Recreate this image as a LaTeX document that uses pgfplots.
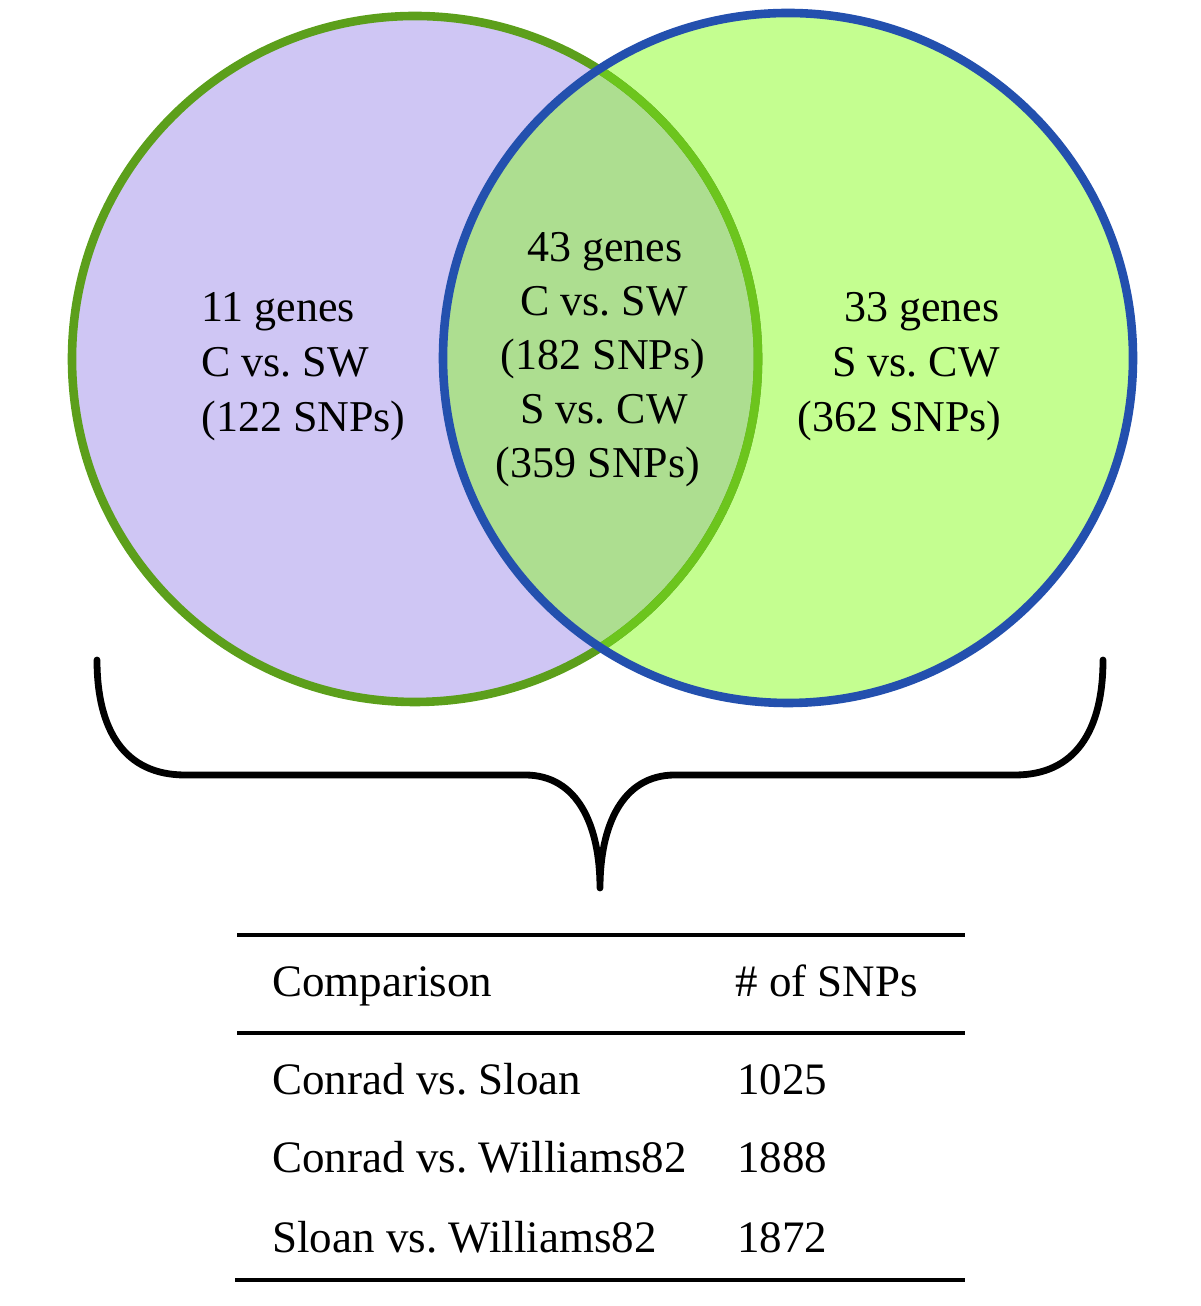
\documentclass[border=0pt]{standalone}
\usepackage{pgfplots}
\pgfplotsset{compat=1.18}
\usepackage{fontspec}
\setmainfont{Liberation Serif}
\frenchspacing
\definecolor{lav}{HTML}{CFC6F4}
\definecolor{lgreen}{HTML}{C4FE90}
\definecolor{ovl}{HTML}{ADDE90}
\definecolor{gdark}{HTML}{5C9F1B}
\definecolor{glight}{HTML}{6CC51D}
\definecolor{blueedge}{HTML}{2350AE}
\newcommand\vtxt{\fontsize{22}{26}\selectfont}
\newcommand\ttxt{\fontsize{22.5}{27}\selectfont}
\begin{document}
\begin{tikzpicture}
\begin{axis}[width=600pt,height=653pt,scale only axis,xmin=0,xmax=1200,ymin=0,ymax=1306,axis lines=none,clip=false]
\path (axis cs:0,0) rectangle (axis cs:1200,1306);
\fill[lav] (axis cs:415,947) circle[radius=343];
\fill[lgreen] (axis cs:788,948) circle[radius=345];
\begin{scope}
\clip (axis cs:415,947) circle[radius=343];
\fill[ovl] (axis cs:788,948) circle[radius=345];
\end{scope}
\draw[gdark, line width=4.3pt] (axis cs:415,947) circle[radius=343];
\begin{scope}
\clip (axis cs:788,948) circle[radius=345];
\draw[glight, line width=4.3pt] (axis cs:415,947) circle[radius=343];
\end{scope}
\draw[blueedge, line width=4.3pt] (axis cs:788,948) circle[radius=345];
% brace
\draw[line width=3.4pt, line cap=round, line join=round] (axis cs:97,646) .. controls (axis cs:97,575) and (axis cs:125,531) .. (axis cs:185,531) -- (axis cs:525,531) .. controls (axis cs:578,531) and (axis cs:600,480) .. (axis cs:600,418) .. controls (axis cs:600,480) and (axis cs:622,531) .. (axis cs:675,531) -- (axis cs:1015,531) .. controls (axis cs:1075,531) and (axis cs:1103,575) .. (axis cs:1103,646);
% table rules
\addplot[black, line width=2pt] coordinates {(237,371) (965,371)};
\addplot[black, line width=2pt] coordinates {(237,273) (965,273)};
\addplot[black, line width=2pt] coordinates {(235,26) (965,26)};
% venn text
\begin{scope}[every node/.append style={inner sep=0pt}]
\node[anchor=base west,font=\vtxt] at (axis cs:201,984) {11 genes};
\node[anchor=base west,font=\vtxt] at (axis cs:201,929) {C vs. SW};
\node[anchor=base west,font=\vtxt] at (axis cs:201,874) {(122 SNPs)};
\node[anchor=base,font=\vtxt] at (axis cs:605,1044) {43 genes};
\node[anchor=base,font=\vtxt] at (axis cs:604,990) {C vs. SW};
\node[anchor=base,font=\vtxt] at (axis cs:603,936) {(182 SNPs)};
\node[anchor=base,font=\vtxt] at (axis cs:604,882) {S vs. CW};
\node[anchor=base,font=\vtxt] at (axis cs:598,828) {(359 SNPs)};
\node[anchor=base east,font=\vtxt] at (axis cs:1000,984) {33 genes};
\node[anchor=base east,font=\vtxt] at (axis cs:1000,929) {S vs. CW};
\node[anchor=base east,font=\vtxt] at (axis cs:1002,874) {(362 SNPs)};
% table text
\node[anchor=base west,font=\ttxt] at (axis cs:272,309) {Comparison};
\node[anchor=base west,font=\ttxt] at (axis cs:735,309) {\# of SNPs};
\node[anchor=base west,font=\ttxt] at (axis cs:272,211) {Conrad vs. Sloan};
\node[anchor=base west,font=\ttxt] at (axis cs:737,211) {1025};
\node[anchor=base west,font=\ttxt] at (axis cs:272,133) {Conrad vs. Williams82};
\node[anchor=base west,font=\ttxt] at (axis cs:737,133) {1888};
\node[anchor=base west,font=\ttxt] at (axis cs:272,53) {Sloan vs. Williams82};
\node[anchor=base west,font=\ttxt] at (axis cs:737,53) {1872};
\end{scope}
\end{axis}
\end{tikzpicture}
\end{document}
